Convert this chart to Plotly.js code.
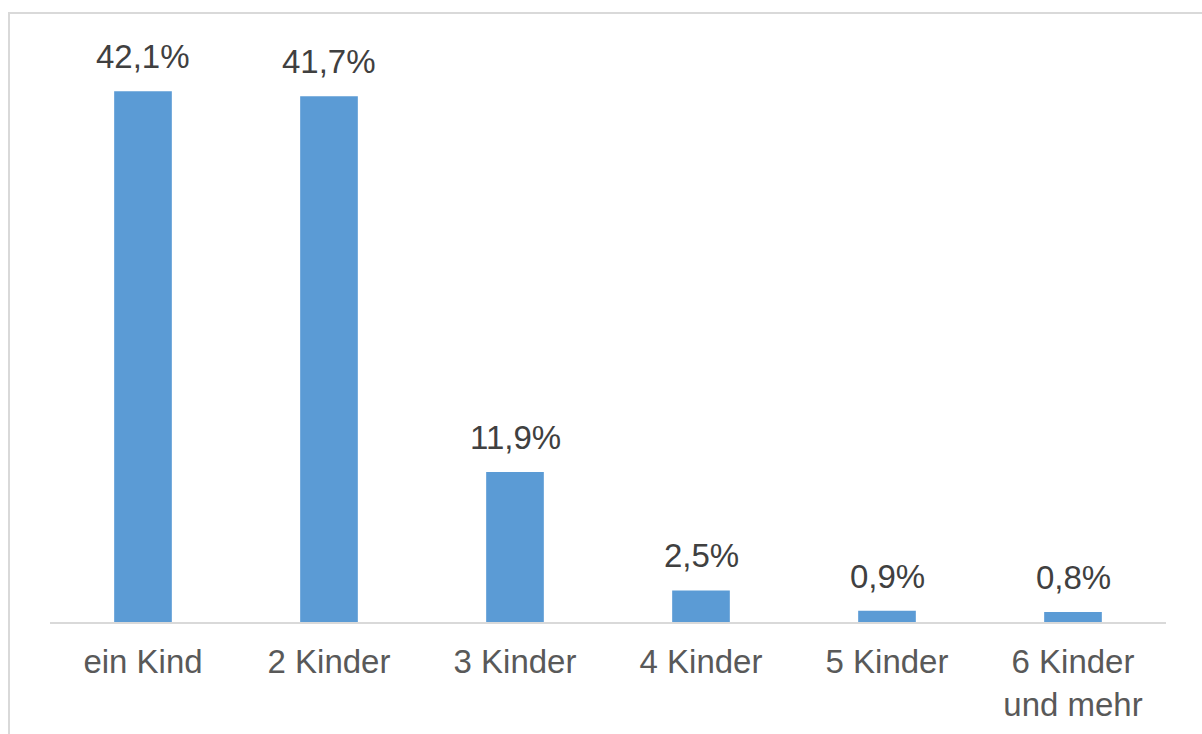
<!DOCTYPE html>
<html>
<head>
<meta charset="utf-8">
<script src="https://cdn.plot.ly/plotly-3.0.1.min.js"></script>
<style>
  html, body { margin: 0; padding: 0; background: #fff; overflow: hidden; }
  #chart { position: absolute; left: 0; top: 0; width: 1202px; height: 734px; }
  #frame { position: absolute; left: 8px; top: 12px; width: 1210px; height: 740px;
           border-top: 2px solid #d9d9d9; border-left: 2px solid #d9d9d9; pointer-events: none; }
</style>
</head>
<body>
<div id="chart"></div>
<div id="frame"></div>
<script>
const categories = ["ein Kind", "2 Kinder", "3 Kinder", "4 Kinder", "5 Kinder", "6 Kinder und mehr"];
const tickLabels = ["ein Kind", "2 Kinder", "3 Kinder", "4 Kinder", "5 Kinder", "6 Kinder<br>und mehr"];
const values = [42.1, 41.7, 11.9, 2.5, 0.9, 0.8];
const valueLabels = ["42,1%", "41,7%", "11,9%", "2,5%", "0,9%", "0,8%"];

const FONT = "Liberation Sans, Arial, sans-serif";

const trace = {
  type: "bar",
  x: categories,
  y: values,
  marker: { color: "#5b9bd5" },
  hoverinfo: "none"
};

const annotations = categories.map((c, i) => ({
  x: c, y: values[i], xref: "x", yref: "y",
  text: valueLabels[i], showarrow: false,
  yanchor: "bottom", yshift: 14,
  font: { family: FONT, size: 33, color: "#404040" }
}));

const layout = {
  width: 1202, height: 734,
  margin: { l: 50, r: 36, t: 42, b: 112 },
  paper_bgcolor: "#ffffff", plot_bgcolor: "#ffffff",
  bargap: 0.69,
  showlegend: false,
  font: { family: FONT, size: 33, color: "#595959" },
  xaxis: {
    type: "category",
    tickvals: categories, ticktext: tickLabels,
    showline: true, linecolor: "#d9d9d9", linewidth: 2,
    ticks: "", showgrid: false, zeroline: false,
    tickfont: { family: FONT, size: 33, color: "#595959" },
    ticklabelstandoff: 9
  },
  yaxis: {
    range: [0, 46], showgrid: false, zeroline: false, showline: false,
    showticklabels: false, ticks: ""
  },
  annotations: annotations
};

Plotly.newPlot("chart", [trace], layout, { displayModeBar: false, staticPlot: true });
</script>
</body>
</html>
